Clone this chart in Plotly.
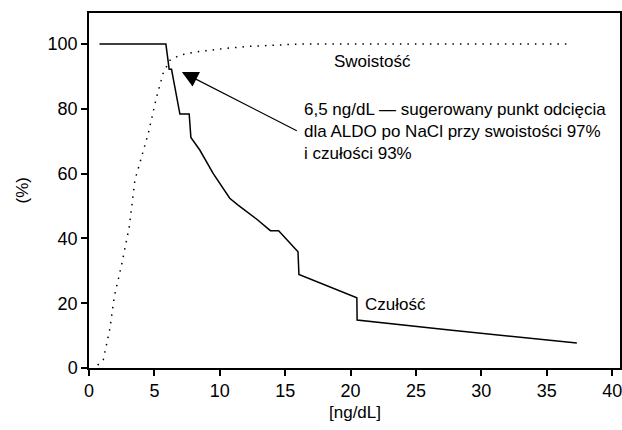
import plotly.graph_objects as go

# Czułość (sensitivity) curve
sens_x = [0.8, 5.88, 6.13, 6.31, 6.95, 7.66, 7.79, 8.47, 9.49, 10.76, 11.4, 12.9, 13.87, 14.5, 15.98, 16.05, 20.48, 20.5, 27.56, 37.3]
sens_y = [100, 100, 92.2, 92.2, 78.4, 78.4, 71.2, 67.3, 60.1, 52.4, 50.3, 45.7, 42.4, 42.4, 35.9, 28.9, 21.7, 14.8, 11.7, 7.7]

# Swoistość (specificity) curve
spec_x = [0.66, 1.09, 1.6, 1.93, 2.49, 3.08, 3.51, 4.02, 4.53, 5.17, 5.67, 6.18, 6.95, 8.2, 10.5, 12.3, 16.0, 36.7]
spec_y = [0.9, 2.5, 12.2, 22.0, 31.8, 43.6, 58.0, 65.2, 72.4, 83.7, 91.0, 95.0, 96.6, 97.6, 98.7, 99.3, 100, 100]

x_ticks = [0, 5, 10, 15, 20, 25, 30, 35, 40]
y_ticks = [0, 20, 40, 60, 80, 100]

FONT = "Liberation Sans, Arial, sans-serif"

fig = go.Figure()
fig.add_trace(go.Scatter(x=spec_x, y=spec_y, mode="lines",
                         line=dict(color="black", width=1.5, dash="1.5px,6px"),
                         showlegend=False, hoverinfo="skip"))
fig.add_trace(go.Scatter(x=sens_x, y=sens_y, mode="lines",
                         line=dict(color="black", width=1.5),
                         showlegend=False, hoverinfo="skip"))

fig.add_annotation(x=7.1, y=91.4, ax=16.0, ay=73.0, xref="x", yref="y", axref="x", ayref="y",
                   text="", showarrow=True, arrowhead=2, arrowsize=2.7, arrowwidth=1.2,
                   arrowcolor="black")
fig.add_annotation(x=16.3, y=73.0, xref="x", yref="y", xanchor="left", yanchor="middle",
                   text="6,5 ng/dL — sugerowany punkt odcięcia<br>dla ALDO po NaCl przy swoistości 97%<br>i czułości 93%",
                   showarrow=False, align="left", font=dict(size=17, color="black", family=FONT))
fig.add_annotation(x=21.7, y=94.5, xref="x", yref="y", text="Swoistość", showarrow=False,
                   font=dict(size=17, color="black", family=FONT))
fig.add_annotation(x=23.4, y=19.5, xref="x", yref="y", text="Czułość", showarrow=False,
                   font=dict(size=17, color="black", family=FONT))

# axis titles placed in paper coordinates
fig.add_annotation(x=0.5, y=0, xref="paper", yref="paper", yshift=-44, yanchor="middle",
                   text="[ng/dL]", showarrow=False, font=dict(size=17, color="black", family=FONT))
fig.add_annotation(x=0, y=0.5, xref="paper", yref="paper", xshift=-67, xanchor="center",
                   text="(%)", textangle=-90, showarrow=False,
                   font=dict(size=17, color="black", family=FONT))

axis_common = dict(showline=True, linecolor="black", linewidth=1.5, mirror=True,
                   ticks="outside", ticklen=6, tickcolor="black", tickwidth=1.5,
                   showgrid=False, zeroline=False, automargin=False,
                   tickfont=dict(size=18, color="black", family=FONT))
fig.update_xaxes(range=[0, 40.6], tickvals=x_ticks, ticktext=[str(v) for v in x_ticks],
                 ticklabeloverflow="allow", **axis_common)
fig.update_yaxes(range=[0, 109.6], tickvals=y_ticks, ticktext=[str(v) for v in y_ticks],
                 **axis_common)

fig.update_layout(width=622, height=430, margin=dict(l=89, r=2, t=13, b=62),
                  plot_bgcolor="white", paper_bgcolor="white")
fig.write_html("out.html", config={"displayModeBar": False},
               post_script="document.body.style.margin='0px';document.body.style.overflow='hidden';")
